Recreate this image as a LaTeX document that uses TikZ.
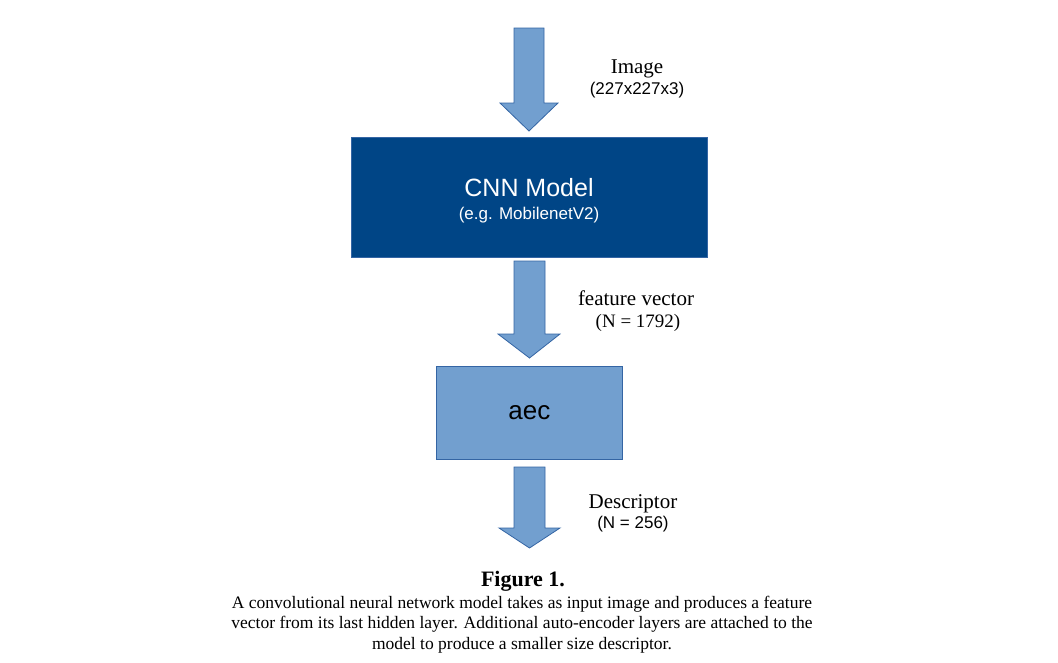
\documentclass[tikz,border=0pt]{standalone}
\usepackage{fontspec}
\setmainfont{Liberation Serif}
\newfontfamily\lsans{Liberation Sans}
\definecolor{darkbox}{HTML}{004586}
\definecolor{lightbox}{HTML}{729FCF}
\definecolor{boxline}{HTML}{3465A4}
\begin{document}
\begin{tikzpicture}[x=1pt,y=-1pt,
  blockarrow/.style={fill=lightbox,draw=boxline,line width=0.8pt,line join=miter},
  serlab/.style={anchor=base,inner sep=0pt,font=\fontsize{21}{24}\selectfont},
  serlabsm/.style={anchor=base,inner sep=0pt,font=\fontsize{19}{22}\selectfont},
  sanlab/.style={anchor=base,inner sep=0pt,font=\lsans\fontsize{17}{20}\selectfont},
  capline/.style={anchor=base,inner sep=0pt,font=\fontsize{17.5}{20}\selectfont}]
\useasboundingbox (0,0) rectangle (1058,662);
% arrow 1
\draw[blockarrow] (514,28) -- (544,28) -- (544,103) -- (558,103) -- (529,131) -- (500,103) -- (514,103) -- cycle;
% CNN box
\node[draw=boxline,fill=darkbox,line width=0.8pt,minimum width=356pt,minimum height=120pt,inner sep=0pt,anchor=north west] (cnn) at (351,137) {};
\node[anchor=base,inner sep=0pt,text=white,font=\lsans\fontsize{25}{28}\selectfont] (cnnt) at (529,196) {CNN Model};
\node[anchor=base,inner sep=0pt,text=white,font=\lsans\fontsize{17}{20}\selectfont] (cnns) at (529,219) {(e.g. MobilenetV2)};
% arrow 2
\draw[blockarrow] (514,261) -- (545,261) -- (545,334) -- (560,334) -- (529.5,358) -- (498,334) -- (514,334) -- cycle;
% aec box
\node[draw=boxline,fill=lightbox,line width=0.8pt,minimum width=186pt,minimum height=93pt,inner sep=0pt,anchor=north west] (aec) at (436,366) {};
\node[anchor=center,inner sep=0pt,font=\lsans\fontsize{26}{28}\selectfont] (aect) at (aec.center) {aec};
% arrow 3
\draw[blockarrow] (514,467) -- (545,467) -- (545,528) -- (560,528) -- (529.5,548) -- (499,528) -- (514,528) -- cycle;
% labels
\node[serlab] (img) at (637,73) {Image};
\node[sanlab] (imgs) at (637,94) {(227x227x3)};
\node[serlab] (fv) at (636,305) {feature vector};
\node[serlabsm] (fvn) at (638,327) {(N = 1792)};
\node[serlab] (desc) at (633,508) {Descriptor};
\node[sanlab] (descn) at (633,528) {(N = 256)};
% caption
\node[anchor=base,inner sep=0pt,font=\bfseries\fontsize{22}{24}\selectfont] (fig) at (523,586) {Figure 1.};
\node[capline] (c1) at (522,608) {A convolutional neural network model takes as input image and produces a feature};
\node[capline] (c2) at (522,628) {vector from its last hidden layer. Additional auto-encoder layers are attached to the};
\node[capline] (c3) at (522,649) {model to produce a smaller size descriptor.};
\end{tikzpicture}
\end{document}
